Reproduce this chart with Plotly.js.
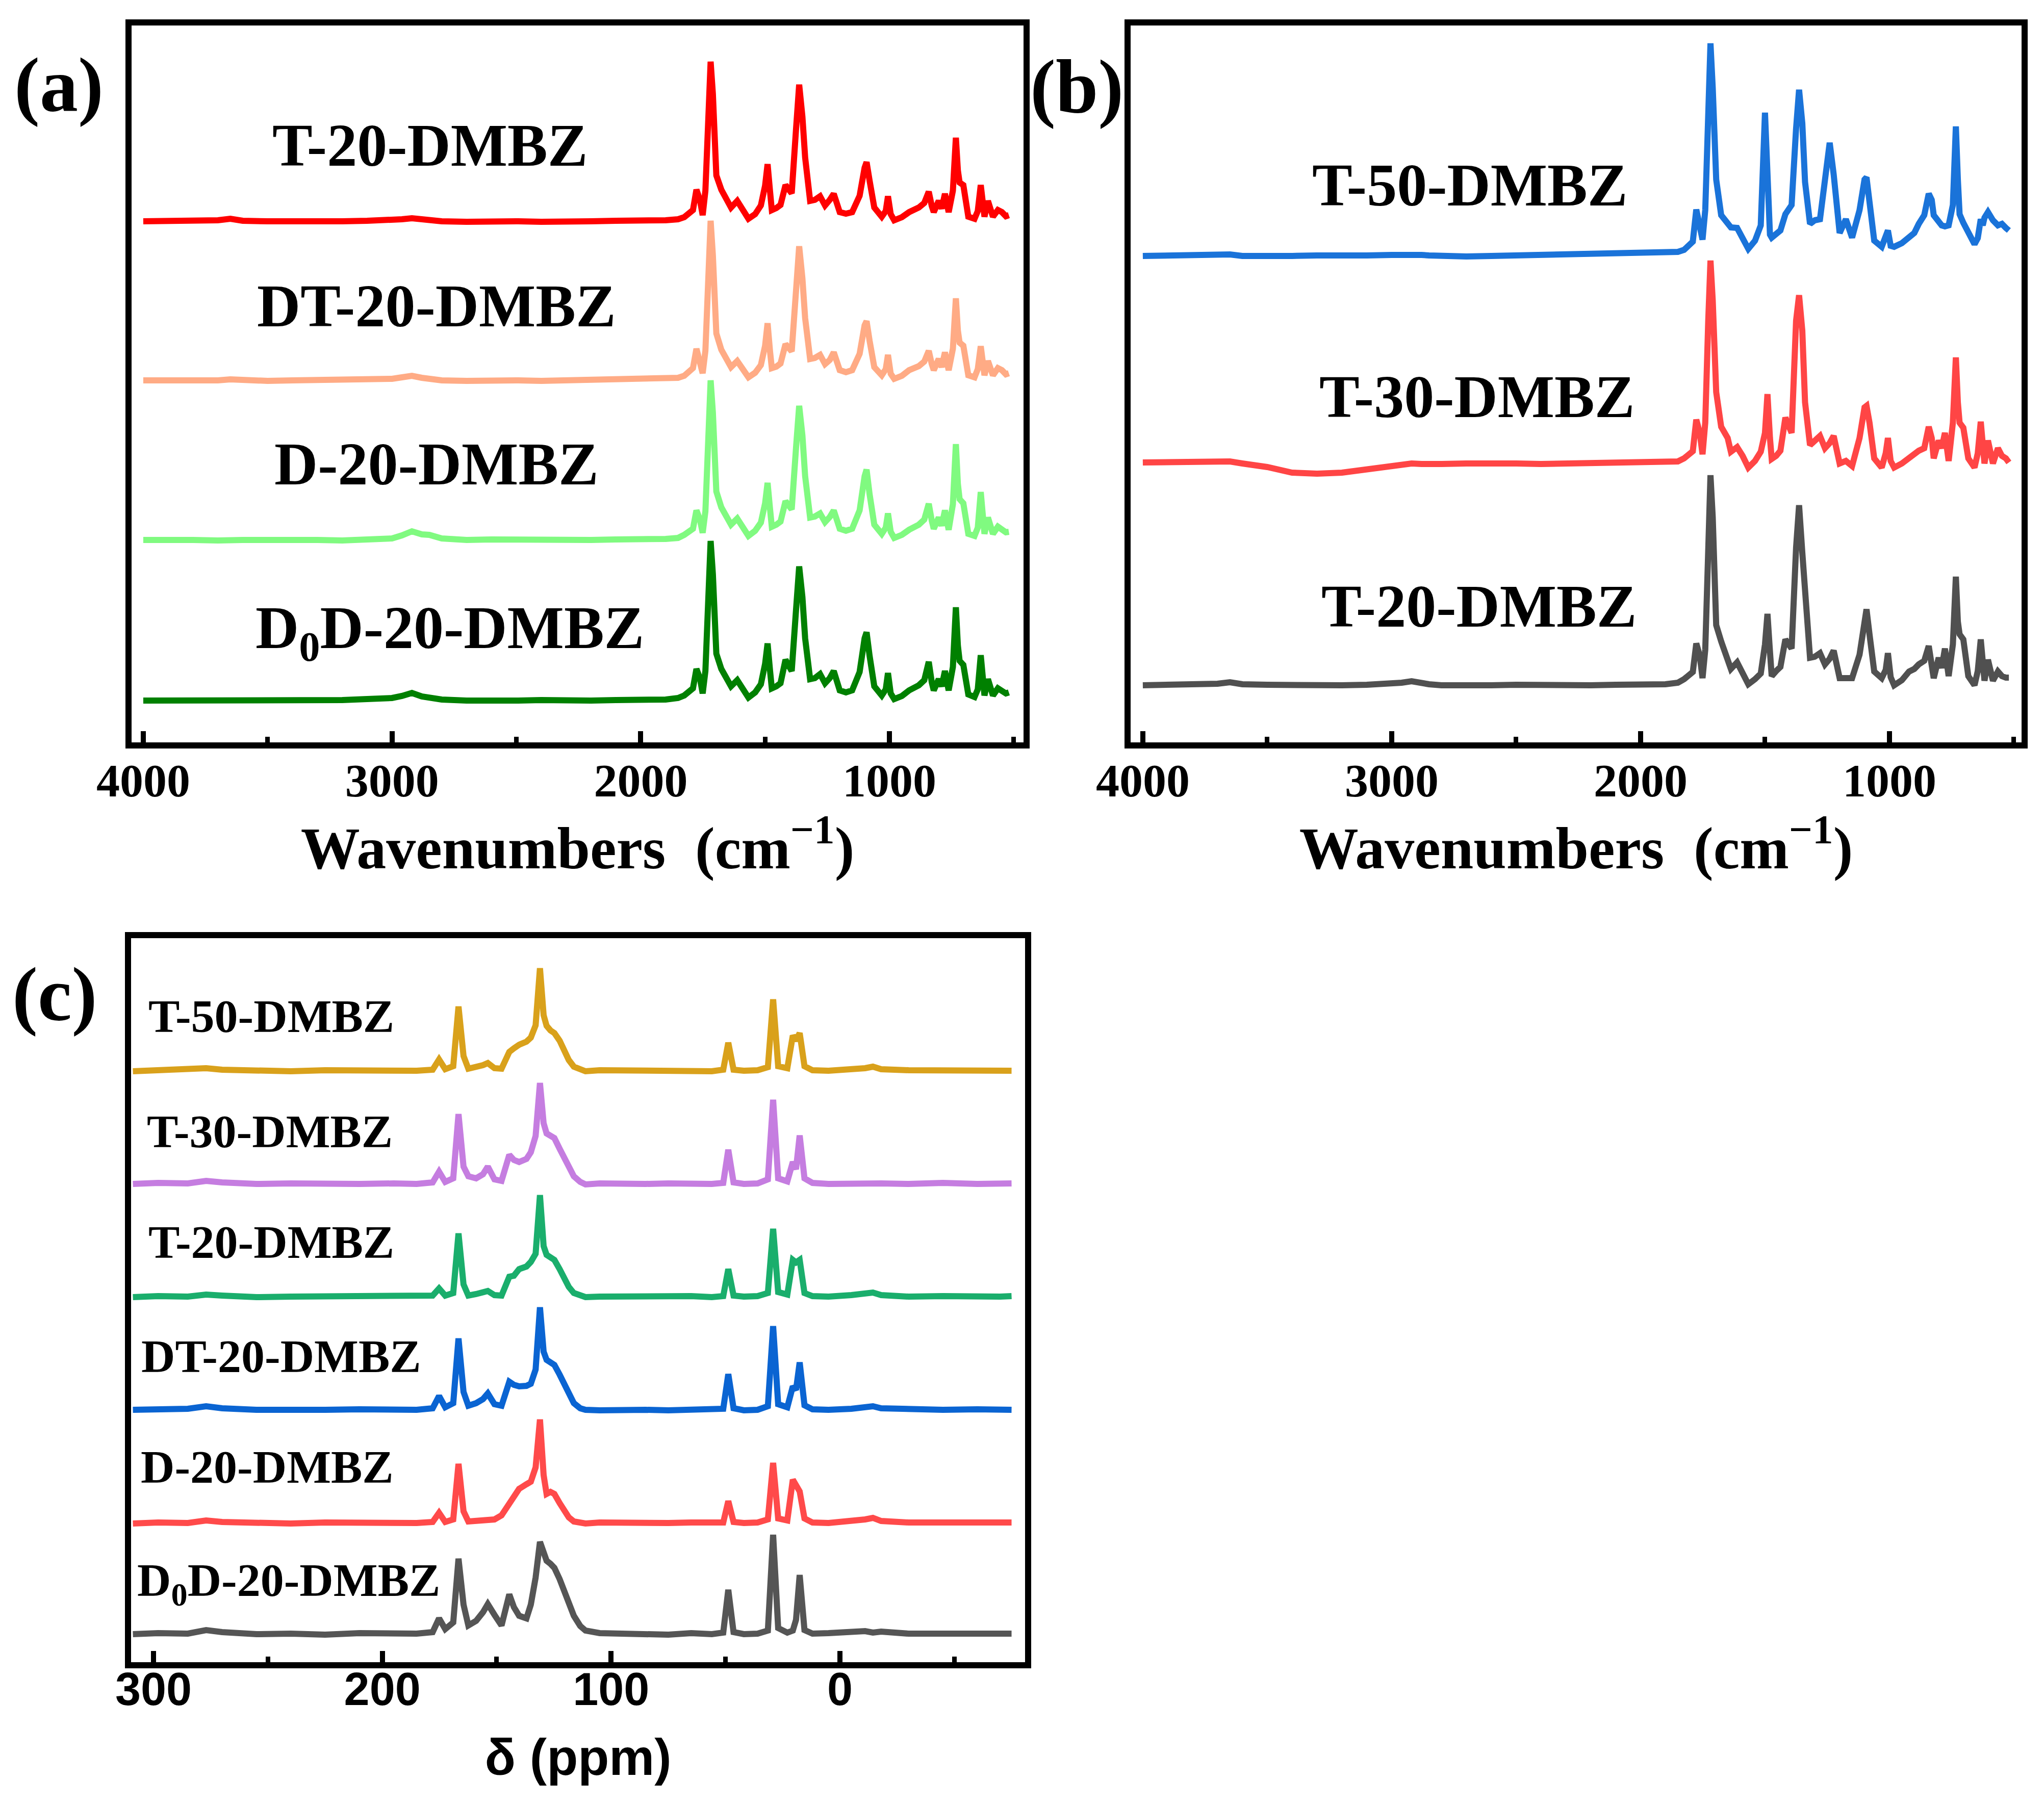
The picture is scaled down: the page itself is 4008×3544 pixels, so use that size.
<!DOCTYPE html>
<html>
<head>
<meta charset="utf-8">
<script src="https://cdn.plot.ly/plotly-3.0.1.min.js"></script>
<style>
  html, body { margin: 0; padding: 0; background: #ffffff; }
  #chart { width: 4008px; height: 3544px; }
</style>
</head>
<body>
<div id="chart"></div>
<script>
// FTIR wavenumber grid (cm-1), shared by panels (a) and (b)
const irWave = [
  4000, 3900, 3800, 3700, 3650, 3600, 3500, 3400, 3300, 3200, 3100, 3000, 2960, 2920, 2880, 2850, 2800, 2700, 2600, 2500, 2400, 2300, 2200, 2100, 2000,
  1900, 1850, 1825, 1790, 1776, 1762, 1751, 1740, 1728, 1719,
  1710, 1696, 1676, 1650, 1637, 1612, 1590, 1567, 1540, 1517,
  1500, 1490, 1480, 1473, 1455, 1438, 1418, 1400, 1393, 1375,
  1363, 1350, 1339, 1319, 1300, 1279, 1259, 1240, 1224, 1200,
  1175, 1150, 1120, 1100, 1092, 1080, 1061, 1031, 1015, 1006,
  995, 981, 950, 921, 900, 882, 860, 842, 830, 822,
  802, 790, 777, 762, 745, 733, 725, 718, 703, 683,
  658, 645, 633, 625, 618, 604, 584, 564, 548, 532,
  520
];

// panel (a) absorbance above each baseline
const irT20a = [
  0, 1, -1, 2, 5, 1, 0, -1, 1, 0, 1, 2, 4, 6, 3, 1, 0, -1, 1, 0, -1, -2, 0, 1, 0,
  2, 4, 8, 22, 62, 42, 12, 60, 225, 313,
  250, 90, 62, 36, 27, 40, 20, 5, 14, 31,
  70, 112, 58, 22, 26, 32, 71, 62, 55, 185,
  268, 205, 125, 40, 42, 49, 31, 42, 54, 18,
  15, 18, 50, 105, 116, 80, 27, 9, 20, 49,
  14, 2, 8, 18, 22, 27, 36, 58, 30, 18,
  40, 25, 54, 18, 60, 164, 100, 76, 71, 9,
  5, 20, 71, 30, 9, 40, 9, 22, 18, 10,
  12
];
const irDT20 = [
  0, -1, 1, 0, 2, 0, -1, 0, 1, 0, 2, 3, 6, 9, 5, 2, 0, -1, 1, 0, -1, 0, 1, 0, 1,
  3, 5, 9, 24, 62, 40, 14, 58, 220, 313,
  245, 92, 60, 38, 26, 38, 22, 6, 15, 30,
  68, 112, 56, 24, 27, 33, 71, 60, 57, 180,
  263, 200, 122, 42, 44, 50, 32, 40, 55, 20,
  16, 20, 52, 108, 116, 78, 26, 10, 22, 50,
  13, 3, 9, 20, 24, 28, 37, 58, 32, 20,
  42, 26, 55, 20, 62, 161, 98, 74, 68, 10,
  6, 22, 67, 28, 10, 38, 10, 24, 20, 12,
  14
];
const irD20 = [
  0, 1, 0, -1, 1, 0, 0, 1, 0, -1, 1, 3, 9, 17, 11, 10, 3, 0, 1, 0, -1, 0, 0, 1, 0,
  2, 4, 10, 22, 58, 40, 14, 56, 220, 313,
  250, 95, 64, 40, 30, 42, 24, 8, 18, 34,
  72, 112, 60, 26, 30, 36, 76, 66, 60, 185,
  263, 205, 125, 44, 46, 52, 35, 45, 58, 22,
  18, 22, 58, 125, 138, 90, 30, 12, 24, 52,
  16, 4, 10, 20, 26, 30, 40, 71, 38, 22,
  44, 28, 58, 20, 70, 188, 110, 80, 72, 12,
  8, 24, 94, 36, 12, 44, 12, 26, 22, 15,
  16
];
const irD0D20 = [
  0, 0, 1, -1, 0, 1, -1, 0, 2, 1, 3, 5, 9, 15, 8, 6, 2, 0, -1, 0, 1, -1, 0, 1, 0,
  2, 5, 10, 24, 62, 44, 14, 58, 222, 313,
  248, 92, 62, 38, 28, 40, 22, 6, 16, 32,
  72, 112, 58, 24, 28, 34, 80, 66, 58, 182,
  263, 203, 122, 42, 44, 52, 34, 44, 58, 20,
  16, 20, 56, 122, 134, 88, 28, 10, 22, 54,
  14, 3, 9, 20, 25, 30, 40, 76, 36, 20,
  42, 28, 58, 20, 66, 183, 108, 78, 70, 12,
  7, 22, 89, 32, 10, 42, 10, 24, 20, 14,
  16
];

// panel (b)
const irT50 = [
  0, 1, 0, 2, 3, 0, -1, 0, 1, 0, 1, 2, 3, 4, 2, 1, 0, -1, 0, 1, 0, 1, 2, 3, 4,
  5, 8, 12, 28, 91, 55, 32, 90, 300, 417,
  330, 150, 80, 62, 56, 55, 32, 14, 30, 60,
  281, 120, 42, 36, 45, 50, 82, 95, 100, 250,
  326, 260, 145, 63, 70, 72, 140, 222, 160, 45,
  72, 36, 90, 150, 154, 110, 30, 18, 35, 50,
  20, 18, 25, 36, 45, 63, 80, 122, 110, 80,
  65, 60, 58, 60, 100, 254, 150, 82, 65, 45,
  23, 35, 72, 60, 75, 86, 70, 60, 63, 55,
  50
];
const irT30 = [
  2, 2, 3, 3, 4, 0, -7, -18, -20, -18, -11, -4, -1, 0, -1, 0, -1, 0, 1, 0, -1, 0, 1, 0, 0,
  1, 4, 10, 24, 86, 60, 18, 80, 280, 398,
  320, 140, 72, 50, 23, 32, 15, -8, 5, 23,
  60, 136, 50, 9, 15, 25, 90, 70, 60, 280,
  330, 260, 120, 36, 45, 54, 30, 40, 54, 0,
  5, -5, 50, 110, 113, 80, 10, -8, 20, 50,
  5, -8, 0, 10, 20, 25, 30, 72, 50, 10,
  45, 30, 60, 5, 80, 208, 120, 80, 70, 10,
  -8, 20, 82, 30, 0, 45, 0, 30, 15, 10,
  2
];
const irT20b = [
  0, 1, 0, 3, 6, 2, 1, 0, -1, 0, 1, 3, 5, 8, 4, 2, 0, -1, 0, 1, 0, -1, 0, 1, 0,
  2, 5, 12, 26, 82, 58, 14, 70, 290, 412,
  330, 118, 86, 48, 32, 45, 25, 2, 12, 23,
  80, 140, 66, 18, 28, 36, 90, 78, 72, 270,
  353, 260, 172, 54, 56, 63, 41, 52, 68, 14,
  14, 14, 60, 135, 149, 100, 27, 14, 30, 63,
  16, 0, 10, 27, 32, 41, 48, 77, 40, 14,
  54, 34, 72, 18, 80, 213, 125, 100, 90, 18,
  0, 28, 90, 40, 9, 50, 9, 27, 18, 15,
  15
];

// 13C NMR chemical shift grid (ppm), panel (c)
const nmrShift = [
  309, 298, 285, 277, 270, 255, 240, 225, 210, 195, 185, 178,
  175.2, 172.5, 169, 166.7, 164.5, 162.4, 159, 156, 153.9, 151,
  147.9, 144.5, 142.5, 140.2, 137, 135.1, 133, 131.1, 129.5, 128.2,
  126.5, 124.8, 122.5, 120.5, 118.5, 116.3, 113.5, 111.2, 105, 95,
  85, 75, 65, 56, 51, 48.8, 46.5, 42, 36, 31.5,
  29.2, 27, 23, 20.6, 19.2, 17.6, 15.5, 12, 5, -5,
  -11, -14.4, -18, -30, -45, -60, -70, -75
];
const nmrT50 = [
  0, 2, 3, 6, 3, 1, 0, 2, 1, 0, 1, 3,
  23, 4, 10, 127, 30, 5, 8, 12, 16, 6,
  5, 38, 45, 52, 58, 66, 90, 202, 110, 89,
  80, 75, 60, 42, 22, 9, 3, 0, 2, 1,
  0, 2, 1, 0, 3, 56, 3, 1, 2, 8,
  141, 10, 6, 70, 60, 75, 10, 2, 1, 3,
  6, 9, 4, 2, 1, 3, 0, 1
];
const nmrT30 = [
  1, 3, 2, 7, 4, 1, 2, 0, 1, 2, 1, 4,
  25, 5, 12, 138, 35, 16, 12, 20, 35, 10,
  7, 58, 48, 44, 50, 63, 95, 199, 120, 100,
  95, 91, 70, 54, 35, 16, 5, 0, 2, 0,
  1, 2, 0, 1, 3, 68, 4, 1, 2, 10,
  166, 12, 6, 44, 30, 96, 12, 3, 1, 2,
  4, 3, 2, 1, 3, 1, 0, 2
];
const nmrT20 = [
  0, 2, 1, 5, 3, 0, 1, 2, 0, 1, 2, 3,
  17, 3, 8, 125, 25, 3, 6, 10, 12, 4,
  3, 40, 42, 55, 60, 69, 85, 200, 100, 83,
  78, 73, 55, 36, 20, 8, 2, 0, 1, 2,
  0, 1, 2, 0, 2, 55, 3, 1, 2, 8,
  134, 10, 5, 73, 68, 73, 8, 2, 1, 4,
  7, 9, 4, 1, 2, 0, 1, 2
];
const nmrDT20 = [
  1, 2, 3, 8, 4, 1, 0, 1, 2, 0, 1, 4,
  28, 6, 14, 141, 36, 9, 14, 22, 33, 12,
  9, 56, 50, 47, 48, 52, 80, 202, 115, 99,
  92, 89, 70, 52, 30, 14, 4, 1, 0, 2,
  1, 0, 2, 1, 3, 71, 4, 0, 1, 8,
  165, 12, 6, 47, 40, 94, 10, 2, 1, 3,
  6, 8, 4, 2, 1, 2, 0, 1
];
const nmrD20 = [
  0, 2, 1, 6, 3, 1, 0, 2, 1, 0, 1, 3,
  21, 3, 8, 117, 24, 4, 5, 6, 7, 8,
  16, 39, 52, 68, 77, 82, 110, 204, 95, 58,
  62, 58, 40, 25, 12, 4, 1, 0, 2, 1,
  0, 1, 2, 1, 2, 44, 3, 1, 2, 8,
  119, 10, 6, 86, 75, 63, 10, 2, 1, 4,
  8, 11, 5, 2, 1, 3, 0, 2
];
const nmrD0D20 = [
  2, 4, 3, 10, 6, 2, 3, 1, 4, 2, 3, 6,
  33, 12, 25, 150, 60, 19, 28, 45, 61, 40,
  19, 80, 55, 38, 33, 60, 113, 183, 160, 146,
  140, 132, 110, 85, 60, 38, 18, 9, 4, 2,
  3, 1, 4, 2, 5, 89, 6, 2, 3, 9,
  197, 14, 5, 9, 30, 118, 10, 3, 4, 6,
  8, 5, 7, 3, 2, 4, 1, 3
];

// sample names, colours and stacking offsets per panel
const namesA = ["T-20-DMBZ", "DT-20-DMBZ", "D-20-DMBZ", "D<sub>0</sub>D-20-DMBZ"];
const seriesA = [irT20a, irDT20, irD20, irD0D20];
const colorsA = ["#ff0000", "#ffab85", "#80fa80", "#008000"];
const offsetsA = [1022, 710, 397, 82];

const namesB = ["T-50-DMBZ", "T-30-DMBZ", "T-20-DMBZ"];
const seriesB = [irT50, irT30, irT20b];
const colorsB = ["#1a73d9", "#ff4545", "#505050"];
const offsetsB = [954, 547, 112];

const namesC = ["T-50-DMBZ", "T-30-DMBZ", "T-20-DMBZ", "DT-20-DMBZ", "D-20-DMBZ", "D<sub>0</sub>D-20-DMBZ"];
const seriesC = [nmrT50, nmrT30, nmrT20, nmrDT20, nmrD20, nmrD0D20];
const colorsC = ["#d9a11b", "#c57de0", "#1aae6c", "#0a64d2", "#ff4a4a", "#555555"];
const offsetsC = [1159, 937, 716, 494, 272, 53];

const W = 4008;
const H = 3544;
const px = (x) => x / W;
const py = (y) => 1 - y / H;

const SERIF = "Liberation Serif, Times New Roman, serif";
const SANS = "Liberation Sans, Arial, sans-serif";

const makeTraces = (xs, series, colors, offsets, xa, ya) =>
  series.map((vals, i) => ({
    x: xs,
    y: vals.map((v) => v + offsets[i]),
    xaxis: xa,
    yaxis: ya,
    type: "scatter",
    mode: "lines",
    line: { color: colors[i], width: 12 },
    hoverinfo: "skip"
  }));

const data = [
  ...makeTraces(irWave, seriesA, colorsA, offsetsA, "x", "y"),
  ...makeTraces(irWave, seriesB, colorsB, offsetsB, "x2", "y2"),
  ...makeTraces(nmrShift, seriesC, colorsC, offsetsC, "x3", "y3")
];

const frame = {
  showline: true,
  linewidth: 12,
  linecolor: "#000000",
  mirror: true,
  showgrid: false,
  zeroline: false
};

const irX = (domain, range, titleGap) => ({
  ...frame,
  domain,
  range,
  tickmode: "linear",
  tick0: 0,
  dtick: 1000,
  ticks: "inside",
  ticklen: 22,
  tickwidth: 10,
  tickcolor: "#000000",
  minor: { dtick: 500, tick0: 0, ticks: "inside", ticklen: 11, tickwidth: 9, tickcolor: "#000000", showgrid: false },
  tickfont: { family: SERIF, size: 92, color: "#000000", weight: "bold" },
  ticklabelstandoff: -16,
  title: {
    text: "Wavenumbers  (cm<sup>−1</sup>)",
    font: { family: SERIF, size: 116, color: "#000000", weight: "bold" },
    standoff: titleGap
  }
});

const hiddenY = (domain, range) => ({
  ...frame,
  domain,
  range,
  ticks: "",
  showticklabels: false
});

const label = (text, x, y, size, family) => ({
  text,
  x: px(x),
  y: py(y),
  xref: "paper",
  yref: "paper",
  xanchor: "center",
  yanchor: "middle",
  showarrow: false,
  font: { family: family || SERIF, size, color: "#000000", weight: "bold" }
});

const layout = {
  width: W,
  height: H,
  margin: { l: 0, r: 0, t: 0, b: 0 },
  paper_bgcolor: "#ffffff",
  plot_bgcolor: "#ffffff",
  showlegend: false,
  xaxis: { ...irX([px(258), px(2007)], [4047, 461], 28), anchor: "y" },
  yaxis: { ...hiddenY([py(1456), py(50)], [0, 1406]), anchor: "x" },
  xaxis2: { ...irX([px(2217), px(3964)], [4049, 469], 42), anchor: "y2" },
  yaxis2: { ...hiddenY([py(1456), py(50)], [0, 1406]), anchor: "x2" },
  xaxis3: {
    ...frame,
    domain: [px(257), px(2010)],
    range: [309.8, -80.9],
    anchor: "y3",
    tickmode: "linear",
    tick0: 0,
    dtick: 100,
    ticks: "inside",
    ticklen: 22,
    tickwidth: 10,
    tickcolor: "#000000",
    minor: { dtick: 50, tick0: 0, ticks: "inside", ticklen: 11, tickwidth: 9, tickcolor: "#000000", showgrid: false },
    tickfont: { family: SANS, size: 90, color: "#000000", weight: "bold" },
    ticklabelstandoff: -36,
    title: {
      text: "δ (ppm)",
      font: { family: SANS, size: 100, color: "#000000", weight: "bold" },
      standoff: 54
    }
  },
  yaxis3: { ...hiddenY([py(3260), py(1840)], [0, 1420]), anchor: "x3" },
  annotations: [
    label("(a)", 115, 166, 150),
    label("(b)", 2111, 170, 150),
    label("(c)", 107, 1950, 150),
    label(namesA[0], 843, 286, 118),
    label(namesA[1], 856, 601, 118),
    label(namesA[2], 856, 911, 118),
    label(namesA[3], 882, 1240, 118),
    label(namesB[0], 2882, 363, 118),
    label(namesB[1], 2896, 778, 118),
    label(namesB[2], 2900, 1189, 118),
    label(namesC[0], 532, 1993, 92),
    label(namesC[1], 529, 2219, 92),
    label(namesC[2], 532, 2436, 92),
    label(namesC[3], 551, 2660, 92),
    label(namesC[4], 524, 2877, 92),
    label(namesC[5], 566, 3105, 92)
  ]
};

Plotly.newPlot("chart", data, layout, { displayModeBar: false, responsive: false, staticPlot: true });
</script>
</body>
</html>
